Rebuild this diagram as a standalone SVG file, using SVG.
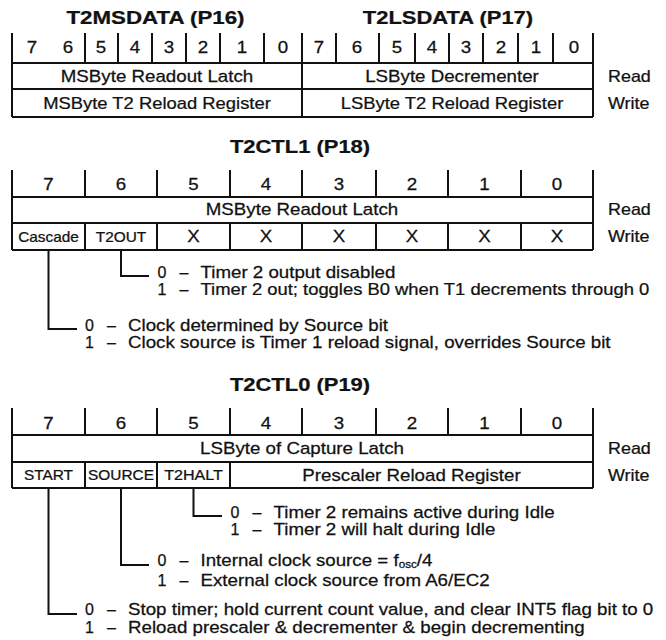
<svg xmlns="http://www.w3.org/2000/svg" width="666" height="640" viewBox="0 0 666 640">
<style>
text{font-family:"Liberation Sans",Arial,Helvetica,sans-serif;fill:#111;stroke:#111;stroke-width:0.25}
.t{font-size:18px;font-weight:bold;text-anchor:middle}
.b{font-size:16px}
.c{text-anchor:middle}
.s{font-size:14px;text-anchor:middle}
.ln{stroke:#111;stroke-width:2;fill:none}
</style>
<rect width="666" height="640" fill="#fff"/>

<g id="reg-t2msdata">
<text class="t" transform="translate(155.5 24) scale(1.24 1)">T2MSDATA (P16)</text>
<path class="ln" d="M12 33V117M85 33V63M118 33V63M152 33V63M186 33V63M220 33V63M264 33V63"/>
<text class="b c" transform="translate(32 53) scale(1.17 1)">7</text>
<text class="b c" transform="translate(68 53) scale(1.17 1)">6</text>
<text class="b c" transform="translate(101 53) scale(1.17 1)">5</text>
<text class="b c" transform="translate(135 53) scale(1.17 1)">4</text>
<text class="b c" transform="translate(169 53) scale(1.17 1)">3</text>
<text class="b c" transform="translate(203 53) scale(1.17 1)">2</text>
<text class="b c" transform="translate(242 53) scale(1.17 1)">1</text>
<text class="b c" transform="translate(283 53) scale(1.17 1)">0</text>
<text class="b c" transform="translate(157 82) scale(1.17 1)">MSByte Readout Latch</text>
<text class="b c" transform="translate(157 109) scale(1.15 1)">MSByte T2 Reload Register</text>
</g>

<g id="reg-t2lsdata">
<text class="t" transform="translate(448 24) scale(1.22 1)">T2LSDATA (P17)</text>
<path class="ln" d="M302 33V117M336 33V63M379 33V63M415 33V63M449 33V63M483 33V63M518 33V63M553 33V63M593 33V117"/>
<text class="b c" transform="translate(319 53) scale(1.17 1)">7</text>
<text class="b c" transform="translate(357 53) scale(1.17 1)">6</text>
<text class="b c" transform="translate(397 53) scale(1.17 1)">5</text>
<text class="b c" transform="translate(432 53) scale(1.17 1)">4</text>
<text class="b c" transform="translate(466 53) scale(1.17 1)">3</text>
<text class="b c" transform="translate(501 53) scale(1.17 1)">2</text>
<text class="b c" transform="translate(536 53) scale(1.17 1)">1</text>
<text class="b c" transform="translate(574 53) scale(1.17 1)">0</text>
<text class="b c" transform="translate(452 82) scale(1.17 1)">LSByte Decrementer</text>
<text class="b c" transform="translate(452 109) scale(1.15 1)">LSByte T2 Reload Register</text>
</g>

<g id="box-top">
<path class="ln" d="M12 63H593M12 89H593M12 117H593"/>
<text class="b" transform="translate(608 82) scale(1.12 1)">Read</text>
<text class="b" transform="translate(608 109) scale(1.12 1)">Write</text>
</g>

<g id="reg-t2ctl1">
<text class="t" transform="translate(300 153) scale(1.22 1)">T2CTL1 (P18)</text>
<path class="ln" d="M12 170V250M593 170V250M85 170V197M157 170V197M230 170V197M302 170V197M376 170V197M448 170V197M521 170V197"/>
<path class="ln" d="M12 197H593M12 223H593M12 250H593"/>
<path class="ln" d="M85 223V250M157 223V250M230 223V250M302 223V250M376 223V250M448 223V250M521 223V250"/>
<text class="b c" transform="translate(48.5 190) scale(1.17 1)">7</text>
<text class="b c" transform="translate(121 190) scale(1.17 1)">6</text>
<text class="b c" transform="translate(193.5 190) scale(1.17 1)">5</text>
<text class="b c" transform="translate(266 190) scale(1.17 1)">4</text>
<text class="b c" transform="translate(339 190) scale(1.17 1)">3</text>
<text class="b c" transform="translate(412 190) scale(1.17 1)">2</text>
<text class="b c" transform="translate(484.5 190) scale(1.17 1)">1</text>
<text class="b c" transform="translate(557 190) scale(1.17 1)">0</text>
<text class="b c" transform="translate(302 215) scale(1.17 1)">MSByte Readout Latch</text>
<text class="s" transform="translate(48.5 242) scale(1.1 1)">Cascade</text>
<text class="s" transform="translate(121 242) scale(1.1 1)">T2OUT</text>
<text class="b c" transform="translate(193.5 242) scale(1.17 1)">X</text>
<text class="b c" transform="translate(266 242) scale(1.17 1)">X</text>
<text class="b c" transform="translate(339 242) scale(1.17 1)">X</text>
<text class="b c" transform="translate(412 242) scale(1.17 1)">X</text>
<text class="b c" transform="translate(484.5 242) scale(1.17 1)">X</text>
<text class="b c" transform="translate(557 242) scale(1.17 1)">X</text>
<text class="b" transform="translate(608 215) scale(1.12 1)">Read</text>
<text class="b" transform="translate(608 242) scale(1.12 1)">Write</text>
</g>

<g id="reg-t2ctl0">
<text class="t" transform="translate(300 391) scale(1.22 1)">T2CTL0 (P19)</text>
<path class="ln" d="M12 408V488M593 408V488M85 408V435M157 408V435M230 408V435M302 408V435M376 408V435M448 408V435M521 408V435"/>
<path class="ln" d="M12 435H593M12 462H593M12 488H593"/>
<path class="ln" d="M85 462V488M157 462V488M230 462V488"/>
<text class="b c" transform="translate(48.5 429) scale(1.17 1)">7</text>
<text class="b c" transform="translate(121 429) scale(1.17 1)">6</text>
<text class="b c" transform="translate(193.5 429) scale(1.17 1)">5</text>
<text class="b c" transform="translate(266 429) scale(1.17 1)">4</text>
<text class="b c" transform="translate(339 429) scale(1.17 1)">3</text>
<text class="b c" transform="translate(412 429) scale(1.17 1)">2</text>
<text class="b c" transform="translate(484.5 429) scale(1.17 1)">1</text>
<text class="b c" transform="translate(557 429) scale(1.17 1)">0</text>
<text class="b c" transform="translate(302 454) scale(1.17 1)">LSByte of Capture Latch</text>
<text class="s" transform="translate(48.5 480) scale(1.1 1)">START</text>
<text class="s" transform="translate(121 480) scale(1.1 1)">SOURCE</text>
<text class="s" transform="translate(193.5 480) scale(1.15 1)">T2HALT</text>
<text class="b c" transform="translate(411.5 481) scale(1.17 1)">Prescaler Reload Register</text>
<text class="b" transform="translate(608 454) scale(1.12 1)">Read</text>
<text class="b" transform="translate(608 481) scale(1.12 1)">Write</text>
</g>

<g id="connectors">
<path class="ln" d="M121 250V276H149"/>
<path class="ln" d="M48.5 250V329H77"/>
<path class="ln" d="M193.5 488V516H222"/>
<path class="ln" d="M121 488V565H149"/>
<path class="ln" d="M48.5 488V614H77"/>
</g>

<g id="desc-t2out">
<text class="b" x="157.5" y="278">0</text><text class="b" x="179.5" y="278">–</text>
<text class="b" transform="translate(200.5 278) scale(1.17 1)">Timer 2 output disabled</text>
<text class="b" x="157.5" y="295">1</text><text class="b" x="179.5" y="295">–</text>
<text class="b" transform="translate(200.5 295) scale(1.15 1)">Timer 2 out; toggles B0 when T1 decrements through 0</text>
</g>

<g id="desc-cascade">
<text class="b" x="85" y="331">0</text><text class="b" x="107" y="331">–</text>
<text class="b" transform="translate(128 331) scale(1.17 1)">Clock determined by Source bit</text>
<text class="b" x="85" y="348">1</text><text class="b" x="107" y="348">–</text>
<text class="b" transform="translate(128 348) scale(1.17 1)">Clock source is Timer 1 reload signal, overrides Source bit</text>
</g>

<g id="desc-t2halt">
<text class="b" x="230.5" y="518">0</text><text class="b" x="252.5" y="518">–</text>
<text class="b" transform="translate(273.5 518) scale(1.17 1)">Timer 2 remains active during Idle</text>
<text class="b" x="230.5" y="535">1</text><text class="b" x="252.5" y="535">–</text>
<text class="b" transform="translate(273.5 535) scale(1.17 1)">Timer 2 will halt during Idle</text>
</g>

<g id="desc-source">
<text class="b" x="157.5" y="566">0</text><text class="b" x="179.5" y="566">–</text>
<text class="b" transform="translate(200.5 566) scale(1.17 1)">Internal clock source = f<tspan font-size="10" dy="2">osc</tspan><tspan dy="-2">/4</tspan></text>
<text class="b" x="157.5" y="586">1</text><text class="b" x="179.5" y="586">–</text>
<text class="b" transform="translate(200.5 586) scale(1.17 1)">External clock source from A6/EC2</text>
</g>

<g id="desc-start">
<text class="b" x="85" y="615">0</text><text class="b" x="107" y="615">–</text>
<text class="b" transform="translate(128 615) scale(1.17 1)">Stop timer; hold current count value, and clear INT5 flag bit to 0</text>
<text class="b" x="85" y="633">1</text><text class="b" x="107" y="633">–</text>
<text class="b" transform="translate(128 633) scale(1.17 1)">Reload prescaler &amp; decrementer &amp; begin decrementing</text>
</g>
</svg>
